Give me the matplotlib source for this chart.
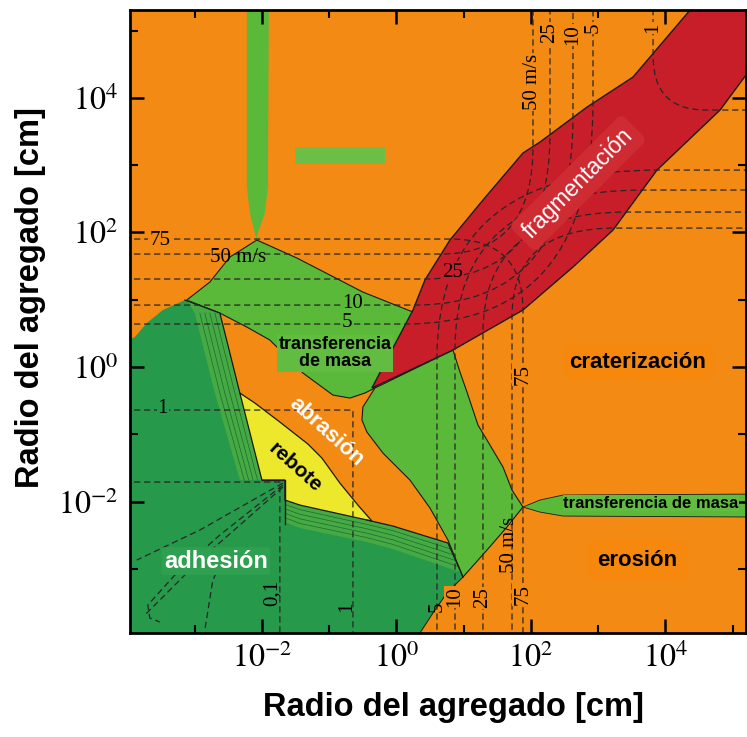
import numpy as np
import matplotlib
matplotlib.use("Agg")
from matplotlib import pyplot as plt
from matplotlib.path import Path
from matplotlib.patches import PathPatch
from matplotlib.ticker import FixedLocator, NullFormatter

plt.rcParams["mathtext.fontset"] = "stix"

ORANGE = "#F38A14"
LIGHT_GREEN = "#5BB93A"
DARK_GREEN = "#27994A"
BAND_GREEN = "#45AA44"
RED = "#C81E29"
YELLOW = "#EEE82C"
EDGE = "#1a1a1a"
DASH = "#262626"

# --- regions, all values are log10(radius / cm) ---------------------------
# thin vertical "transferencia de masa" strip at the top
strip_x = [-2.225, -2.225, -2.180, -2.106, -2.076, -2.061, -1.957, -1.912, -1.897]
strip_y = [5.40, 2.675, 2.288, 1.991, 1.887, 1.991, 2.288, 2.675, 5.40]

# upper "transferencia de masa" region
mt_up_x = [-2.076, -1.481, -0.990, -0.499, 0.246, -0.320, -0.469, -0.692, -0.945,
           -1.391, -1.629, -1.882, -2.225, -2.626, -3.118, -2.775, -2.478]
mt_up_y = [1.887, 1.620, 1.367, 1.114, 0.817, -0.312, -0.386, -0.461, -0.416,
           -0.089, 0.149, 0.401, 0.594, 0.802, 0.996, 1.263, 1.634]

# middle green region below the fragmentation tip
mt_mid_x = [-0.320, 0.841, 0.945, 1.049, 1.213, 1.391, 1.585, 1.719, 1.882, 1.644,
            1.347, 0.990, 0.766, 0.499, 0.201, -0.201, -0.439, -0.513, -0.499]
mt_mid_y = [-0.312, 0.253, -0.074, -0.371, -0.862, -1.159, -1.486, -1.828, -2.080, -2.377,
            -2.719, -3.120, -2.571, -2.095, -1.679, -1.278, -0.966, -0.788, -0.594]

# horizontal "transferencia de masa" band on the right
mt_low_x = [1.882, 2.135, 2.478, 5.40, 5.40, 2.478, 2.135]
mt_low_y = [-2.080, -1.976, -1.902, -1.887, -2.229, -2.214, -2.155]

# fragmentation band
frag_x = [-0.365, 0.246, 0.424, 0.796, 1.287, 1.882, 2.135, 2.835, 3.519, 4.368, 4.45,
          5.40, 5.40, 4.814, 3.876, 3.624, 3.222, 2.626, 1.882, 0.841]
frag_y = [-0.312, 0.847, 1.293, 1.887, 2.481, 3.180, 3.343, 3.863, 4.309, 5.305, 5.40,
          5.40, 4.61, 3.819, 2.927, 2.585, 2.036, 1.486, 0.847, 0.253]

# sticking (adhesion) region
stick_x = [-4.10, -3.891, -3.713, -3.475, -3.147, -2.626, -2.329, -2.001, -1.659, -1.659,
           -1.436, -0.439, -0.052, 0.766, 0.990, 0.751, 0.543, 0.350, 0.30, -4.10]
stick_y = [0.357, 0.446, 0.654, 0.847, 0.996, 0.802, -0.386, -1.679, -1.679, -1.976,
           -2.051, -2.273, -2.363, -2.615, -3.120, -3.358, -3.655, -3.952, -4.10, -4.10]

# striped sticking + bouncing bands
ua_left_x = [-2.999, -2.701, -2.329]
ua_right_x = [-2.626, -2.329, -2.001]
ua_y = [0.802, -0.386, -1.679]
la_x_top = [-1.659, -1.436, -0.439, -0.052, 0.766]
la_y_top = [-1.976, -2.051, -2.273, -2.363, -2.615]
la_x_bot = [-1.659, -1.436, -0.439, -0.052, 0.945]
la_y_bot = [-2.303, -2.392, -2.600, -2.704, -3.046]

# bouncing region
bounce_x = [-2.329, -2.106, -1.734, -1.317, -1.109, -0.841, -0.573, -0.365, -0.439,
            -1.436, -1.659, -1.659, -2.001]
bounce_y = [-0.386, -0.535, -0.817, -1.144, -1.352, -1.724, -2.051, -2.288, -2.273,
            -2.051, -1.976, -1.679, -1.679]

bar_x = [-1.510, -0.171]
bar_y = [3.016, 3.269]

# --- velocity contours [m/s] ------------------------------------------------
v_levels = ["5", "10", "25", "50"]
left_y = [0.639, 0.921, 1.308, 1.679]
top_x = [2.924, 2.626, 2.284, 2.031]
left_bend_x = [0.136, 0.276, 0.433, 0.666]
top_bend_y = [3.920, 3.708, 3.454, 3.276]
bottom_x = [0.603, 0.871, 1.287, 1.719]
right_y = [2.927, 2.630, 2.303, 2.065]
bottom_bend_y = [0.141, 0.270, 0.508, 0.754]
right_bend_x = [3.876, 3.657, 3.418, 3.243]

v75_y, v75_x = 1.902, 1.882
v1_corner = (-0.647, -0.639)
v01_corner = (-1.734, -1.709)
v1_high = 3.817

fan1_x = [-1.689, -2.924, -3.862]
fan1_y = [-1.724, -2.422, -2.868]
fan2_x = [-1.689, -2.626, -3.296, -3.698, -3.668, -3.519]
fan2_y = [-1.753, -2.496, -3.091, -3.536, -3.730, -3.789]
fan3_x = [-1.689, -2.329, -2.924, -3.519, -3.743]
fan3_y = [-1.783, -2.348, -2.868, -3.462, -3.685]
fan4_x = [-2.552, -2.731, -2.850]
fan4_y = [-2.793, -3.165, -3.908]

fig = plt.figure(figsize=(7.47, 7.37), dpi=100)
ax = fig.add_axes([0.1734, 0.1411, 0.8253, 0.8453])
ax.set_xscale("log")
ax.set_yscale("log")
ax.set_xlim(10 ** -3.97, 10 ** 5.2)
ax.set_ylim(10 ** -3.952, 10 ** 5.305)
ax.set_facecolor(ORANGE)


def p10(v):
    return 10.0 ** np.asarray(v, dtype=float)


def region(xs, ys, color, z, edge="none", lw=0.0):
    ax.fill(p10(xs), p10(ys), facecolor=color, edgecolor=edge, linewidth=lw, zorder=z)


def line(xs, ys, z=3.0, **kw):
    ax.plot(p10(xs), p10(ys), zorder=z, **kw)


def bent(start, bend0, corner, bend1, end):
    verts = p10([start, bend0, corner, bend1, end])
    codes = [Path.MOVETO, Path.LINETO, Path.CURVE3, Path.CURVE3, Path.LINETO]
    ax.add_patch(PathPatch(Path(verts, codes), fill=False, edgecolor=DASH,
                           linewidth=0.9, linestyle=(0, (5, 3)), zorder=4))


region(stick_x, stick_y, DARK_GREEN, 1)
region(mt_up_x, mt_up_y, LIGHT_GREEN, 1.2, EDGE, 0.8)
region(mt_mid_x, mt_mid_y, LIGHT_GREEN, 1.2, EDGE, 0.8)
region(mt_low_x, mt_low_y, LIGHT_GREEN, 1.2, EDGE, 0.6)
region(strip_x, strip_y, LIGHT_GREEN, 1.3)
region([bar_x[0], bar_x[1], bar_x[1], bar_x[0]], [bar_y[0], bar_y[0], bar_y[1], bar_y[1]],
       "#6CBE46", 1.3)

# striped bands
region([-3.118] + ua_right_x + ua_left_x[::-1], [0.996] + ua_y + ua_y[::-1], BAND_GREEN, 2)
region(la_x_top + [0.990] + la_x_bot[::-1], la_y_top + [-3.120] + la_y_bot[::-1], BAND_GREEN, 2)
for t in np.linspace(0, 1, 6)[1:-1]:
    sx = np.array(ua_left_x) + t * (np.array(ua_right_x) - np.array(ua_left_x))
    line(sx, ua_y, 2.2, color="#1f6a2e", lw=0.5)
    lx_ = np.array(la_x_top) + t * (np.array(la_x_bot) - np.array(la_x_top))
    ly_ = np.array(la_y_top) + t * (np.array(la_y_bot) - np.array(la_y_top))
    line(lx_, ly_, 2.2, color="#1f6a2e", lw=0.5)

region(bounce_x, bounce_y, YELLOW, 2.1, EDGE, 0.9)
region(frag_x, frag_y, RED, 2.5, EDGE, 1.0)

# black borders
line([-3.147, -2.626, -2.329], [0.996, 0.802, -0.386], color=EDGE, lw=0.9)
line(la_x_top[2:] + [0.990], la_y_top[2:] + [-3.120], color=EDGE, lw=0.9)
line([-2.001, -1.659, -1.659], [-1.679, -1.679, -2.333], color=EDGE, lw=1.0)
line([0.990, 0.751, 0.543, 0.350], [-3.120, -3.358, -3.655, -3.952], color=EDGE, lw=0.7)

# velocity contours
for i in range(len(v_levels)):
    bent((-4.2, left_y[i]), (left_bend_x[i], left_y[i]), (top_x[i], left_y[i]),
         (top_x[i], top_bend_y[i]), (top_x[i], 5.5))
    bent((bottom_x[i], -4.2), (bottom_x[i], bottom_bend_y[i]), (bottom_x[i], right_y[i]),
         (right_bend_x[i], right_y[i]), (5.5, right_y[i]))
bent((-4.2, v75_y), (0.808, v75_y), (v75_x, v75_y), (v75_x, 0.847), (v75_x, -4.2))
bent((v1_high, 5.5), (v1_high, 4.62), (v1_high, 3.819), (4.6, 3.819), (5.5, 3.819))
for cx, cy in [v1_corner, v01_corner]:
    bent((-4.2, cy), (cx, cy), (cx, cy), (cx, cy), (cx, -4.2))
for fx, fy in [(fan1_x, fan1_y), (fan2_x, fan2_y), (fan3_x, fan3_y), (fan4_x, fan4_y)]:
    line(fx, fy, 4, color=DASH, lw=0.9, linestyle=(0, (5, 3)))

# contour labels
serif = dict(family="Liberation Serif", fontsize=15, ha="center", va="center", zorder=5)


def vlabel(txt, x, y, rot=0, fc=None):
    box = dict(boxstyle="square,pad=0.05", fc=fc, ec="none") if fc else None
    ax.text(10 ** x, 10 ** y, txt, rotation=rot, bbox=box, **serif)


vlabel("75", -3.519, 1.887, fc=ORANGE)
vlabel("50 m/s", -2.359, 1.634)
vlabel("10", -0.647, 0.951, fc=LIGHT_GREEN)
vlabel("5", -0.737, 0.669, fc=LIGHT_GREEN)
vlabel("1", -3.475, -0.609, fc=DARK_GREEN)
vlabel("25", 0.841, 1.412, fc=RED)
vlabel("50 m/s", top_x[3], 4.235, 90, ORANGE)
vlabel("25", top_x[2], 4.963, 90, ORANGE)
vlabel("10", top_x[1], 4.933, 90, ORANGE)
vlabel("5", top_x[0], 5.037, 90, ORANGE)
vlabel("1", v1_high, 5.037, 90, ORANGE)
vlabel("5", bottom_x[0], -3.566, 90)
vlabel("10", bottom_x[1], -3.418, 90, ORANGE)
vlabel("25", bottom_x[2], -3.432, 90, ORANGE)
vlabel("50 m/s", bottom_x[3] - 0.03, -2.64, 90)
vlabel("75", v75_x, -3.373, 90, ORANGE)
vlabel("75", v75_x, -0.104, 90, ORANGE)
vlabel("1", -0.74, -3.566, 90)
vlabel("0,1", -1.853, -3.358, 90)

# region labels
sans = dict(family="Liberation Sans", ha="center", va="center", zorder=6)
ax.text(10 ** -0.915, 10 ** 0.208, "transferencia\nde masa", fontsize=13, weight="bold",
        linespacing=0.95, bbox=dict(boxstyle="square,pad=0.1", fc="#62BC42", ec="none"), **sans)
ax.text(10 ** 3.594, 10 ** 0.074, "craterización", fontsize=16, weight="bold",
        bbox=dict(boxstyle="round,pad=0.3", fc="#F6880E", ec="none"), **sans)
ax.text(10 ** 3.579, 10 ** -2.868, "erosión", fontsize=16, weight="bold",
        bbox=dict(boxstyle="round,pad=0.45", fc="#F6880E", ec="none"), **sans)
ax.text(10 ** 3.787, 10 ** -2.021, "transferencia de masa", fontsize=12, weight="bold",
        bbox=dict(boxstyle="square,pad=0.05", fc="#62BC42", ec="none"), **sans)
ax.text(10 ** -2.686, 10 ** -2.883, "adhesión", fontsize=17, weight="bold", color="white",
        bbox=dict(boxstyle="round,pad=0.1", fc="#2FA04F", ec="none"), **sans)
ax.text(10 ** -1.049, 10 ** -0.966, "abrasión", fontsize=16, weight="bold", color="white",
        rotation=-42, **sans)
ax.text(10 ** -1.510, 10 ** -1.486, "rebote", fontsize=15, weight="bold", color="black",
        rotation=-42, **sans)
ax.text(10 ** 2.701, 10 ** 2.734, "fragmentación", fontsize=16.5, color="white", rotation=45,
        bbox=dict(boxstyle="round,pad=0.3", fc="#CF2B33", ec="none"), **sans)

# axes styling
major = [1e-2, 1e0, 1e2, 1e4]
minor = [1e-3, 1e-1, 1e1, 1e3, 1e5]
labels = [r"$10^{-2}$", r"$10^{0}$", r"$10^{2}$", r"$10^{4}$"]
for axis in (ax.xaxis, ax.yaxis):
    axis.set_major_locator(FixedLocator(major))
    axis.set_minor_locator(FixedLocator(minor))
    axis.set_minor_formatter(NullFormatter())
ax.set_xticklabels(labels)
ax.set_yticklabels(labels)
ax.tick_params(which="both", direction="in", top=True, right=True, labelsize=23)
ax.tick_params(which="major", length=10, width=1.8)
ax.tick_params(which="minor", length=5.5, width=1.5)
ax.tick_params(axis="x", pad=7)
ax.tick_params(axis="y", pad=8)
for sp in ax.spines.values():
    sp.set_linewidth(2.0)
    sp.set_zorder(7)

ax.set_xlabel("Radio del agregado [cm]", family="Liberation Sans", weight="bold",
              fontsize=23.5)
ax.set_ylabel("Radio del agregado [cm]", family="Liberation Sans", weight="bold",
              fontsize=23.5)
ax.xaxis.set_label_coords(0.526, -0.095)
ax.yaxis.set_label_coords(-0.135, 0.538)

fig.savefig("out.png", dpi=100, facecolor="white")
